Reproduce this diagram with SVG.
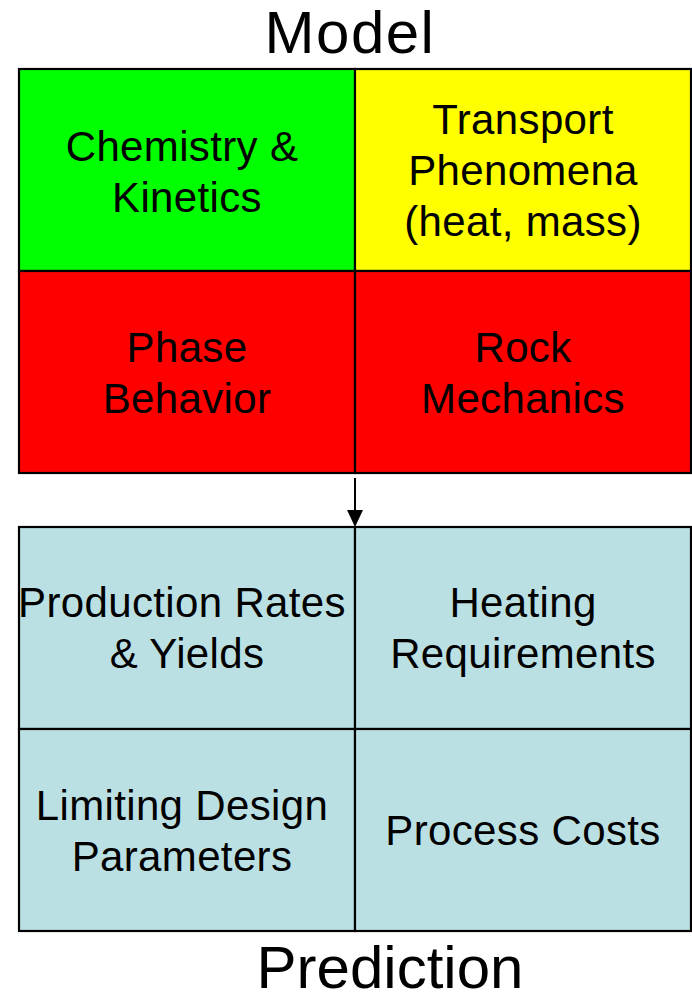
<svg xmlns="http://www.w3.org/2000/svg" width="692" height="1001" viewBox="0 0 692 1001">
<style>
.cell{stroke:#000;stroke-width:2.2}
.t{font-family:"Liberation Sans",Arial,sans-serif;font-size:42px;letter-spacing:0.35px;fill:#000;text-anchor:middle}
.title{font-family:"Liberation Sans",Arial,sans-serif;font-size:60px;fill:#000;text-anchor:middle}
</style>
<rect width="692" height="1001" fill="#fff"/>
<text class="title" x="350" y="53" style="letter-spacing:1.5px">Model</text>
<g id="chem"><rect class="cell" x="19" y="69" width="336" height="202" fill="#00FF00"/>
<text class="t" x="182" y="161">Chemistry &amp;</text><text class="t" x="187" y="212">Kinetics</text></g>
<g id="transport"><rect class="cell" x="355" y="69" width="336" height="202" fill="#FFFF00"/>
<text class="t" x="523" y="134">Transport</text><text class="t" x="523" y="185">Phenomena</text><text class="t" x="523" y="236">(heat, mass)</text></g>
<g id="phase"><rect class="cell" x="19" y="271" width="336" height="202" fill="#FF0000"/>
<text class="t" x="187" y="362">Phase</text><text class="t" x="187" y="413">Behavior</text></g>
<g id="rock"><rect class="cell" x="355" y="271" width="336" height="202" fill="#FF0000"/>
<text class="t" x="523" y="362">Rock</text><text class="t" x="523" y="413">Mechanics</text></g>
<g id="production"><rect class="cell" x="19" y="527" width="336" height="202" fill="#BBE0E3"/>
<text class="t" x="182" y="617">Production Rates</text><text class="t" x="187" y="668">&amp; Yields</text></g>
<g id="heating"><rect class="cell" x="355" y="527" width="336" height="202" fill="#BBE0E3"/>
<text class="t" x="523" y="617">Heating</text><text class="t" x="523" y="668">Requirements</text></g>
<g id="limiting"><rect class="cell" x="19" y="729" width="336" height="202" fill="#BBE0E3"/>
<text class="t" x="182" y="820">Limiting Design</text><text class="t" x="182" y="871">Parameters</text></g>
<g id="costs"><rect class="cell" x="355" y="729" width="336" height="202" fill="#BBE0E3"/>
<text class="t" x="523" y="845">Process Costs</text></g>
<g id="connectors">
<line x1="355" y1="478" x2="355" y2="512" stroke="#000" stroke-width="2"/>
<path d="M347,510 L363,510 L355,527 Z" fill="#000"/>
</g>
<text class="title" x="390" y="988">Prediction</text>
</svg>
